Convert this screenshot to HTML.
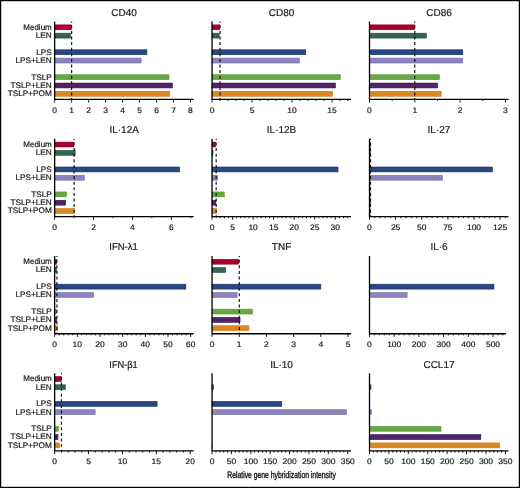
<!DOCTYPE html>
<html><head><meta charset="utf-8"><style>
html,body{margin:0;padding:0;background:#fff;}
body{width:520px;height:488px;overflow:hidden;}
svg{display:block;will-change:transform;}
rect{stroke-width:0.6;}
text{font-family:"Liberation Sans",sans-serif;fill:#1a1a1a;text-rendering:geometricPrecision;stroke:#1a1a1a;stroke-width:0.2px;}
.t{font-size:10px;text-anchor:middle;}
.n{font-size:8px;text-anchor:middle;}
.l{font-size:8.1px;text-anchor:end;}
.a{fill:none;stroke:#000;stroke-width:1.3;}
.k{fill:none;stroke:#000;stroke-width:0.9;}
.d{stroke:#000;stroke-width:1.1;stroke-dasharray:3 2.6;stroke-dashoffset:1.9;}
</style></head><body>
<svg width="520" height="488" viewBox="0 0 520 488">
<rect x="0.6" y="0.6" width="518.8" height="486.8" fill="#fff" style="stroke:#000;stroke-width:1.2px"/>
<g><text x="124.15" y="15.9" class="t" textLength="25.57" lengthAdjust="spacingAndGlyphs">CD40</text><rect x="54.65" y="24.87" width="16.68" height="4.9" fill="#a8002e" stroke="#90001c"/><rect x="54.65" y="33.18" width="16" height="4.9" fill="#326450" stroke="#24503a"/><rect x="54.65" y="49.8" width="92.24" height="4.9" fill="#284882" stroke="#122c66"/><rect x="54.65" y="58.11" width="86.47" height="4.9" fill="#8c84bc" stroke="#7a6cae"/><rect x="54.65" y="74.73" width="114.32" height="4.9" fill="#68a844" stroke="#549634"/><rect x="54.65" y="83.04" width="117.71" height="4.9" fill="#522464" stroke="#3c0c50"/><rect x="54.65" y="91.35" width="115.16" height="4.9" fill="#dc8820" stroke="#c87410"/><line x1="71.63" y1="21.6" x2="71.63" y2="99.35" class="d"/><path d="M54.65 21.6V99.35H193.65" class="a"/><path d="M54.65 99.35v3.2M71.63 99.35v3.2M88.61 99.35v3.2M105.59 99.35v3.2M122.57 99.35v3.2M139.55 99.35v3.2M156.53 99.35v3.2M173.51 99.35v3.2M190.49 99.35v3.2" class="k"/><text x="54.65" y="112.8" class="n" textLength="4.72" lengthAdjust="spacingAndGlyphs">0</text><text x="71.63" y="112.8" class="n" textLength="4.72" lengthAdjust="spacingAndGlyphs">1</text><text x="88.61" y="112.8" class="n" textLength="4.72" lengthAdjust="spacingAndGlyphs">2</text><text x="105.59" y="112.8" class="n" textLength="4.72" lengthAdjust="spacingAndGlyphs">3</text><text x="122.57" y="112.8" class="n" textLength="4.72" lengthAdjust="spacingAndGlyphs">4</text><text x="139.55" y="112.8" class="n" textLength="4.72" lengthAdjust="spacingAndGlyphs">5</text><text x="156.53" y="112.8" class="n" textLength="4.72" lengthAdjust="spacingAndGlyphs">6</text><text x="173.51" y="112.8" class="n" textLength="4.72" lengthAdjust="spacingAndGlyphs">7</text><text x="190.49" y="112.8" class="n" textLength="4.72" lengthAdjust="spacingAndGlyphs">8</text><text x="51.8" y="29.72" class="l" textLength="28.52" lengthAdjust="spacingAndGlyphs">Medium</text><text x="51.8" y="38.03" class="l" textLength="15.99" lengthAdjust="spacingAndGlyphs">LEN</text><text x="51.8" y="54.65" class="l" textLength="15.54" lengthAdjust="spacingAndGlyphs">LPS</text><text x="51.8" y="62.96" class="l" textLength="36.34" lengthAdjust="spacingAndGlyphs">LPS+LEN</text><text x="51.8" y="79.58" class="l" textLength="20.56" lengthAdjust="spacingAndGlyphs">TSLP</text><text x="51.8" y="87.89" class="l" textLength="41.36" lengthAdjust="spacingAndGlyphs">TSLP+LEN</text><text x="51.8" y="96.2" class="l" textLength="44.09" lengthAdjust="spacingAndGlyphs">TSLP+POM</text></g>
<g><text x="281.55" y="15.9" class="t" textLength="25.57" lengthAdjust="spacingAndGlyphs">CD80</text><rect x="212.05" y="24.87" width="7.7" height="4.9" fill="#a8002e" stroke="#90001c"/><rect x="212.05" y="33.18" width="7.14" height="4.9" fill="#326450" stroke="#24503a"/><rect x="212.05" y="49.8" width="93.7" height="4.9" fill="#284882" stroke="#122c66"/><rect x="212.05" y="58.11" width="87.3" height="4.9" fill="#8c84bc" stroke="#7a6cae"/><rect x="212.05" y="74.73" width="128.26" height="4.9" fill="#68a844" stroke="#549634"/><rect x="212.05" y="83.04" width="123.38" height="4.9" fill="#522464" stroke="#3c0c50"/><rect x="212.05" y="91.35" width="120.5" height="4.9" fill="#dc8820" stroke="#c87410"/><line x1="220.05" y1="21.6" x2="220.05" y2="99.35" class="d"/><path d="M212.05 21.6V99.35H351.05" class="a"/><path d="M220.05 99.35v1.6M228.05 99.35v1.6M236.05 99.35v1.6M244.05 99.35v1.6M260.05 99.35v1.6M268.05 99.35v1.6M276.05 99.35v1.6M284.05 99.35v1.6M300.05 99.35v1.6M308.05 99.35v1.6M316.05 99.35v1.6M324.05 99.35v1.6M340.05 99.35v1.6M348.05 99.35v1.6M212.05 99.35v3.2M252.05 99.35v3.2M292.05 99.35v3.2M332.05 99.35v3.2" class="k"/><text x="212.05" y="112.8" class="n" textLength="4.72" lengthAdjust="spacingAndGlyphs">0</text><text x="252.05" y="112.8" class="n" textLength="4.72" lengthAdjust="spacingAndGlyphs">5</text><text x="292.05" y="112.8" class="n" textLength="9.43" lengthAdjust="spacingAndGlyphs">10</text><text x="332.05" y="112.8" class="n" textLength="9.43" lengthAdjust="spacingAndGlyphs">15</text></g>
<g><text x="439" y="15.9" class="t" textLength="25.57" lengthAdjust="spacingAndGlyphs">CD86</text><rect x="369.5" y="24.87" width="45" height="4.9" fill="#a8002e" stroke="#90001c"/><rect x="369.5" y="33.18" width="56.87" height="4.9" fill="#326450" stroke="#24503a"/><rect x="369.5" y="49.8" width="93.29" height="4.9" fill="#284882" stroke="#122c66"/><rect x="369.5" y="58.11" width="93.29" height="4.9" fill="#8c84bc" stroke="#7a6cae"/><rect x="369.5" y="74.73" width="69.92" height="4.9" fill="#68a844" stroke="#549634"/><rect x="369.5" y="83.04" width="68.1" height="4.9" fill="#522464" stroke="#3c0c50"/><rect x="369.5" y="91.35" width="71.68" height="4.9" fill="#dc8820" stroke="#c87410"/><line x1="414.8" y1="21.6" x2="414.8" y2="99.35" class="d"/><path d="M369.5 21.6V99.35H508.5" class="a"/><path d="M392.15 99.35v1.6M437.45 99.35v1.6M482.75 99.35v1.6M369.5 99.35v3.2M414.8 99.35v3.2M460.1 99.35v3.2M505.4 99.35v3.2" class="k"/><text x="369.5" y="112.8" class="n" textLength="4.72" lengthAdjust="spacingAndGlyphs">0</text><text x="414.8" y="112.8" class="n" textLength="4.72" lengthAdjust="spacingAndGlyphs">1</text><text x="460.1" y="112.8" class="n" textLength="4.72" lengthAdjust="spacingAndGlyphs">2</text><text x="505.4" y="112.8" class="n" textLength="4.72" lengthAdjust="spacingAndGlyphs">3</text></g>
<g><text x="124.15" y="133.1" class="t" textLength="29.46" lengthAdjust="spacingAndGlyphs">IL·12A</text><rect x="54.65" y="142.07" width="19.15" height="4.9" fill="#a8002e" stroke="#90001c"/><rect x="54.65" y="150.38" width="20.51" height="4.9" fill="#326450" stroke="#24503a"/><rect x="54.65" y="167" width="124.96" height="4.9" fill="#284882" stroke="#122c66"/><rect x="54.65" y="175.31" width="29.65" height="4.9" fill="#8c84bc" stroke="#7a6cae"/><rect x="54.65" y="191.93" width="11.76" height="4.9" fill="#68a844" stroke="#549634"/><rect x="54.65" y="200.24" width="10.98" height="4.9" fill="#522464" stroke="#3c0c50"/><rect x="54.65" y="208.55" width="19.54" height="4.9" fill="#dc8820" stroke="#c87410"/><line x1="74.1" y1="138.8" x2="74.1" y2="216.55" class="d"/><path d="M54.65 138.8V216.55H193.65" class="a"/><path d="M74.1 216.55v1.6M113 216.55v1.6M151.9 216.55v1.6M190.8 216.55v1.6M54.65 216.55v3.2M93.55 216.55v3.2M132.45 216.55v3.2M171.35 216.55v3.2" class="k"/><text x="54.65" y="230" class="n" textLength="4.72" lengthAdjust="spacingAndGlyphs">0</text><text x="93.55" y="230" class="n" textLength="4.72" lengthAdjust="spacingAndGlyphs">2</text><text x="132.45" y="230" class="n" textLength="4.72" lengthAdjust="spacingAndGlyphs">4</text><text x="171.35" y="230" class="n" textLength="4.72" lengthAdjust="spacingAndGlyphs">6</text><text x="51.8" y="146.92" class="l" textLength="28.52" lengthAdjust="spacingAndGlyphs">Medium</text><text x="51.8" y="155.23" class="l" textLength="15.99" lengthAdjust="spacingAndGlyphs">LEN</text><text x="51.8" y="171.85" class="l" textLength="15.54" lengthAdjust="spacingAndGlyphs">LPS</text><text x="51.8" y="180.16" class="l" textLength="36.34" lengthAdjust="spacingAndGlyphs">LPS+LEN</text><text x="51.8" y="196.78" class="l" textLength="20.56" lengthAdjust="spacingAndGlyphs">TSLP</text><text x="51.8" y="205.09" class="l" textLength="41.36" lengthAdjust="spacingAndGlyphs">TSLP+LEN</text><text x="51.8" y="213.4" class="l" textLength="44.09" lengthAdjust="spacingAndGlyphs">TSLP+POM</text></g>
<g><text x="281.55" y="133.1" class="t" textLength="29.46" lengthAdjust="spacingAndGlyphs">IL·12B</text><rect x="212.05" y="142.07" width="3.6" height="4.9" fill="#a8002e" stroke="#90001c"/><rect x="212.05" y="150.38" width="0.93" height="4.9" fill="#326450" stroke="#24503a"/><rect x="212.05" y="167" width="125.99" height="4.9" fill="#284882" stroke="#122c66"/><rect x="212.05" y="175.31" width="5.45" height="4.9" fill="#8c84bc" stroke="#7a6cae"/><rect x="212.05" y="191.93" width="12.23" height="4.9" fill="#68a844" stroke="#549634"/><rect x="212.05" y="200.24" width="3.81" height="4.9" fill="#522464" stroke="#3c0c50"/><rect x="212.05" y="208.55" width="4.22" height="4.9" fill="#dc8820" stroke="#c87410"/><line x1="216.16" y1="138.8" x2="216.16" y2="216.55" class="d"/><path d="M212.05 138.8V216.55H351.05" class="a"/><path d="M216.16 216.55v1.6M220.26 216.55v1.6M224.37 216.55v1.6M228.48 216.55v1.6M236.69 216.55v1.6M240.8 216.55v1.6M244.91 216.55v1.6M249.01 216.55v1.6M257.23 216.55v1.6M261.33 216.55v1.6M265.44 216.55v1.6M269.55 216.55v1.6M277.76 216.55v1.6M281.87 216.55v1.6M285.98 216.55v1.6M290.08 216.55v1.6M298.3 216.55v1.6M302.4 216.55v1.6M306.51 216.55v1.6M310.62 216.55v1.6M318.83 216.55v1.6M322.94 216.55v1.6M327.05 216.55v1.6M331.15 216.55v1.6M339.37 216.55v1.6M343.47 216.55v1.6M347.58 216.55v1.6M212.05 216.55v3.2M232.59 216.55v3.2M253.12 216.55v3.2M273.66 216.55v3.2M294.19 216.55v3.2M314.73 216.55v3.2M335.26 216.55v3.2" class="k"/><text x="212.05" y="230" class="n" textLength="4.72" lengthAdjust="spacingAndGlyphs">0</text><text x="232.59" y="230" class="n" textLength="4.72" lengthAdjust="spacingAndGlyphs">5</text><text x="253.12" y="230" class="n" textLength="9.43" lengthAdjust="spacingAndGlyphs">10</text><text x="273.66" y="230" class="n" textLength="9.43" lengthAdjust="spacingAndGlyphs">15</text><text x="294.19" y="230" class="n" textLength="9.43" lengthAdjust="spacingAndGlyphs">20</text><text x="314.73" y="230" class="n" textLength="9.43" lengthAdjust="spacingAndGlyphs">25</text><text x="335.26" y="230" class="n" textLength="9.43" lengthAdjust="spacingAndGlyphs">30</text></g>
<g><text x="439" y="133.1" class="t" textLength="22.79" lengthAdjust="spacingAndGlyphs">IL·27</text><rect x="369.5" y="142.07" width="0.74" height="4.9" fill="#a8002e" stroke="#90001c"/><rect x="369.5" y="150.38" width="0.74" height="4.9" fill="#326450" stroke="#24503a"/><rect x="369.5" y="167" width="122.91" height="4.9" fill="#284882" stroke="#122c66"/><rect x="369.5" y="175.31" width="72.95" height="4.9" fill="#8c84bc" stroke="#7a6cae"/><rect x="369.5" y="191.93" width="0.74" height="4.9" fill="#68a844" stroke="#549634"/><rect x="369.5" y="200.24" width="0.74" height="4.9" fill="#522464" stroke="#3c0c50"/><rect x="369.5" y="208.55" width="0.74" height="4.9" fill="#dc8820" stroke="#c87410"/><line x1="370.55" y1="138.8" x2="370.55" y2="216.55" class="d"/><path d="M369.5 138.8V216.55H508.5" class="a"/><path d="M374.73 216.55v1.6M379.95 216.55v1.6M385.18 216.55v1.6M390.4 216.55v1.6M400.85 216.55v1.6M406.07 216.55v1.6M411.3 216.55v1.6M416.52 216.55v1.6M426.98 216.55v1.6M432.2 216.55v1.6M437.43 216.55v1.6M442.65 216.55v1.6M453.1 216.55v1.6M458.32 216.55v1.6M463.55 216.55v1.6M468.77 216.55v1.6M479.23 216.55v1.6M484.45 216.55v1.6M489.68 216.55v1.6M494.9 216.55v1.6M505.35 216.55v1.6M369.5 216.55v3.2M395.62 216.55v3.2M421.75 216.55v3.2M447.88 216.55v3.2M474 216.55v3.2M500.12 216.55v3.2" class="k"/><text x="369.5" y="230" class="n" textLength="4.72" lengthAdjust="spacingAndGlyphs">0</text><text x="395.62" y="230" class="n" textLength="9.43" lengthAdjust="spacingAndGlyphs">25</text><text x="421.75" y="230" class="n" textLength="9.43" lengthAdjust="spacingAndGlyphs">50</text><text x="447.88" y="230" class="n" textLength="9.43" lengthAdjust="spacingAndGlyphs">75</text><text x="474" y="230" class="n" textLength="14.15" lengthAdjust="spacingAndGlyphs">100</text><text x="500.12" y="230" class="n" textLength="14.15" lengthAdjust="spacingAndGlyphs">125</text></g>
<g><text x="123.55" y="250.3" class="t" textLength="28.4" lengthAdjust="spacingAndGlyphs">IFN-λ1</text><rect x="54.65" y="259.27" width="1.97" height="4.9" fill="#a8002e" stroke="#90001c"/><rect x="54.65" y="267.58" width="1.74" height="4.9" fill="#326450" stroke="#24503a"/><rect x="54.65" y="284.2" width="131.19" height="4.9" fill="#284882" stroke="#122c66"/><rect x="54.65" y="292.51" width="38.92" height="4.9" fill="#8c84bc" stroke="#7a6cae"/><rect x="54.65" y="309.13" width="1.51" height="4.9" fill="#68a844" stroke="#549634"/><rect x="54.65" y="317.44" width="1.97" height="4.9" fill="#522464" stroke="#3c0c50"/><rect x="54.65" y="325.75" width="2.65" height="4.9" fill="#dc8820" stroke="#c87410"/><line x1="56.92" y1="256" x2="56.92" y2="333.75" class="d"/><path d="M54.65 256V333.75H193.65" class="a"/><path d="M59.18 333.75v1.6M63.72 333.75v1.6M68.25 333.75v1.6M72.79 333.75v1.6M81.85 333.75v1.6M86.39 333.75v1.6M90.92 333.75v1.6M95.46 333.75v1.6M104.52 333.75v1.6M109.06 333.75v1.6M113.59 333.75v1.6M118.13 333.75v1.6M127.19 333.75v1.6M131.73 333.75v1.6M136.26 333.75v1.6M140.8 333.75v1.6M149.86 333.75v1.6M154.4 333.75v1.6M158.93 333.75v1.6M163.47 333.75v1.6M172.53 333.75v1.6M177.07 333.75v1.6M181.6 333.75v1.6M186.14 333.75v1.6M54.65 333.75v3.2M77.32 333.75v3.2M99.99 333.75v3.2M122.66 333.75v3.2M145.33 333.75v3.2M168 333.75v3.2M190.67 333.75v3.2" class="k"/><text x="54.65" y="347.2" class="n" textLength="4.72" lengthAdjust="spacingAndGlyphs">0</text><text x="77.32" y="347.2" class="n" textLength="9.43" lengthAdjust="spacingAndGlyphs">10</text><text x="99.99" y="347.2" class="n" textLength="9.43" lengthAdjust="spacingAndGlyphs">20</text><text x="122.66" y="347.2" class="n" textLength="9.43" lengthAdjust="spacingAndGlyphs">30</text><text x="145.33" y="347.2" class="n" textLength="9.43" lengthAdjust="spacingAndGlyphs">40</text><text x="168" y="347.2" class="n" textLength="9.43" lengthAdjust="spacingAndGlyphs">50</text><text x="190.67" y="347.2" class="n" textLength="9.43" lengthAdjust="spacingAndGlyphs">60</text><text x="51.8" y="264.12" class="l" textLength="28.52" lengthAdjust="spacingAndGlyphs">Medium</text><text x="51.8" y="272.43" class="l" textLength="15.99" lengthAdjust="spacingAndGlyphs">LEN</text><text x="51.8" y="289.05" class="l" textLength="15.54" lengthAdjust="spacingAndGlyphs">LPS</text><text x="51.8" y="297.36" class="l" textLength="36.34" lengthAdjust="spacingAndGlyphs">LPS+LEN</text><text x="51.8" y="313.98" class="l" textLength="20.56" lengthAdjust="spacingAndGlyphs">TSLP</text><text x="51.8" y="322.29" class="l" textLength="41.36" lengthAdjust="spacingAndGlyphs">TSLP+LEN</text><text x="51.8" y="330.6" class="l" textLength="44.09" lengthAdjust="spacingAndGlyphs">TSLP+POM</text></g>
<g><text x="281.55" y="250.3" class="t" textLength="19.44" lengthAdjust="spacingAndGlyphs">TNF</text><rect x="212.05" y="259.27" width="26.63" height="4.9" fill="#a8002e" stroke="#90001c"/><rect x="212.05" y="267.58" width="13.68" height="4.9" fill="#326450" stroke="#24503a"/><rect x="212.05" y="284.2" width="108.77" height="4.9" fill="#284882" stroke="#122c66"/><rect x="212.05" y="292.51" width="25" height="4.9" fill="#8c84bc" stroke="#7a6cae"/><rect x="212.05" y="309.13" width="40.5" height="4.9" fill="#68a844" stroke="#549634"/><rect x="212.05" y="317.44" width="27.99" height="4.9" fill="#522464" stroke="#3c0c50"/><rect x="212.05" y="325.75" width="36.83" height="4.9" fill="#dc8820" stroke="#c87410"/><line x1="239.25" y1="256" x2="239.25" y2="333.75" class="d"/><path d="M212.05 256V333.75H351.05" class="a"/><path d="M212.05 333.75v3.2M239.25 333.75v3.2M266.45 333.75v3.2M293.65 333.75v3.2M320.85 333.75v3.2M348.05 333.75v3.2" class="k"/><text x="212.05" y="347.2" class="n" textLength="4.72" lengthAdjust="spacingAndGlyphs">0</text><text x="239.25" y="347.2" class="n" textLength="4.72" lengthAdjust="spacingAndGlyphs">1</text><text x="266.45" y="347.2" class="n" textLength="4.72" lengthAdjust="spacingAndGlyphs">2</text><text x="293.65" y="347.2" class="n" textLength="4.72" lengthAdjust="spacingAndGlyphs">3</text><text x="320.85" y="347.2" class="n" textLength="4.72" lengthAdjust="spacingAndGlyphs">4</text><text x="348.05" y="347.2" class="n" textLength="4.72" lengthAdjust="spacingAndGlyphs">5</text></g>
<g><text x="439" y="250.3" class="t" textLength="17.23" lengthAdjust="spacingAndGlyphs">IL·6</text><rect x="369.5" y="284.2" width="124.44" height="4.9" fill="#284882" stroke="#122c66"/><rect x="369.5" y="292.51" width="37.64" height="4.9" fill="#8c84bc" stroke="#7a6cae"/><path d="M369.5 256V333.75H505.9" class="a"/><path d="M374.44 333.75v1.6M379.38 333.75v1.6M384.32 333.75v1.6M389.26 333.75v1.6M399.14 333.75v1.6M404.08 333.75v1.6M409.02 333.75v1.6M413.96 333.75v1.6M423.84 333.75v1.6M428.78 333.75v1.6M433.72 333.75v1.6M438.66 333.75v1.6M448.54 333.75v1.6M453.48 333.75v1.6M458.42 333.75v1.6M463.36 333.75v1.6M473.24 333.75v1.6M478.18 333.75v1.6M483.12 333.75v1.6M488.06 333.75v1.6M497.94 333.75v1.6M502.88 333.75v1.6M369.5 333.75v3.2M394.2 333.75v3.2M418.9 333.75v3.2M443.6 333.75v3.2M468.3 333.75v3.2M493 333.75v3.2" class="k"/><text x="369.5" y="347.2" class="n" textLength="4.72" lengthAdjust="spacingAndGlyphs">0</text><text x="394.2" y="347.2" class="n" textLength="14.15" lengthAdjust="spacingAndGlyphs">100</text><text x="418.9" y="347.2" class="n" textLength="14.15" lengthAdjust="spacingAndGlyphs">200</text><text x="443.6" y="347.2" class="n" textLength="14.15" lengthAdjust="spacingAndGlyphs">300</text><text x="468.3" y="347.2" class="n" textLength="14.15" lengthAdjust="spacingAndGlyphs">400</text><text x="493" y="347.2" class="n" textLength="14.15" lengthAdjust="spacingAndGlyphs">500</text></g>
<g><text x="123.55" y="367.5" class="t" textLength="28.4" lengthAdjust="spacingAndGlyphs">IFN-β1</text><rect x="54.65" y="376.47" width="6.55" height="4.9" fill="#a8002e" stroke="#90001c"/><rect x="54.65" y="384.78" width="10.75" height="4.9" fill="#326450" stroke="#24503a"/><rect x="54.65" y="401.4" width="102.42" height="4.9" fill="#284882" stroke="#122c66"/><rect x="54.65" y="409.71" width="40.52" height="4.9" fill="#8c84bc" stroke="#7a6cae"/><rect x="54.65" y="426.33" width="3.84" height="4.9" fill="#68a844" stroke="#549634"/><rect x="54.65" y="434.64" width="3.36" height="4.9" fill="#522464" stroke="#3c0c50"/><rect x="54.65" y="442.95" width="4.79" height="4.9" fill="#dc8820" stroke="#c87410"/><line x1="61.43" y1="373.2" x2="61.43" y2="450.95" class="d"/><path d="M54.65 373.2V450.95H193.65" class="a"/><path d="M61.43 450.95v1.6M68.21 450.95v1.6M74.99 450.95v1.6M81.77 450.95v1.6M95.33 450.95v1.6M102.11 450.95v1.6M108.89 450.95v1.6M115.67 450.95v1.6M129.23 450.95v1.6M136.01 450.95v1.6M142.79 450.95v1.6M149.57 450.95v1.6M163.13 450.95v1.6M169.91 450.95v1.6M176.69 450.95v1.6M183.47 450.95v1.6M54.65 450.95v3.2M88.55 450.95v3.2M122.45 450.95v3.2M156.35 450.95v3.2M190.25 450.95v3.2" class="k"/><text x="54.65" y="464.4" class="n" textLength="4.72" lengthAdjust="spacingAndGlyphs">0</text><text x="88.55" y="464.4" class="n" textLength="4.72" lengthAdjust="spacingAndGlyphs">5</text><text x="122.45" y="464.4" class="n" textLength="9.43" lengthAdjust="spacingAndGlyphs">10</text><text x="156.35" y="464.4" class="n" textLength="9.43" lengthAdjust="spacingAndGlyphs">15</text><text x="190.25" y="464.4" class="n" textLength="9.43" lengthAdjust="spacingAndGlyphs">20</text><text x="51.8" y="381.32" class="l" textLength="28.52" lengthAdjust="spacingAndGlyphs">Medium</text><text x="51.8" y="389.63" class="l" textLength="15.99" lengthAdjust="spacingAndGlyphs">LEN</text><text x="51.8" y="406.25" class="l" textLength="15.54" lengthAdjust="spacingAndGlyphs">LPS</text><text x="51.8" y="414.56" class="l" textLength="36.34" lengthAdjust="spacingAndGlyphs">LPS+LEN</text><text x="51.8" y="431.18" class="l" textLength="20.56" lengthAdjust="spacingAndGlyphs">TSLP</text><text x="51.8" y="439.49" class="l" textLength="41.36" lengthAdjust="spacingAndGlyphs">TSLP+LEN</text><text x="51.8" y="447.8" class="l" textLength="44.09" lengthAdjust="spacingAndGlyphs">TSLP+POM</text></g>
<g><text x="281.55" y="367.5" class="t" textLength="22.79" lengthAdjust="spacingAndGlyphs">IL·10</text><rect x="212.05" y="384.78" width="1.64" height="4.9" fill="#326450" stroke="#24503a"/><rect x="212.05" y="401.4" width="69.68" height="4.9" fill="#284882" stroke="#122c66"/><rect x="212.05" y="409.71" width="134.54" height="4.9" fill="#8c84bc" stroke="#7a6cae"/><rect x="212.05" y="442.95" width="0.1" height="4.9" fill="#dc8820" stroke="#c87410"/><path d="M212.05 373.2V450.95H351.05" class="a"/><path d="M215.93 450.95v1.6M219.8 450.95v1.6M223.68 450.95v1.6M227.56 450.95v1.6M235.31 450.95v1.6M239.19 450.95v1.6M243.07 450.95v1.6M246.94 450.95v1.6M254.7 450.95v1.6M258.57 450.95v1.6M262.45 450.95v1.6M266.33 450.95v1.6M274.08 450.95v1.6M277.96 450.95v1.6M281.84 450.95v1.6M285.71 450.95v1.6M293.47 450.95v1.6M297.34 450.95v1.6M301.22 450.95v1.6M305.1 450.95v1.6M312.85 450.95v1.6M316.73 450.95v1.6M320.61 450.95v1.6M324.48 450.95v1.6M332.24 450.95v1.6M336.11 450.95v1.6M339.99 450.95v1.6M343.87 450.95v1.6M212.05 450.95v3.2M231.44 450.95v3.2M250.82 450.95v3.2M270.21 450.95v3.2M289.59 450.95v3.2M308.98 450.95v3.2M328.36 450.95v3.2M347.75 450.95v3.2" class="k"/><text x="212.05" y="464.4" class="n" textLength="4.72" lengthAdjust="spacingAndGlyphs">0</text><text x="231.44" y="464.4" class="n" textLength="9.43" lengthAdjust="spacingAndGlyphs">50</text><text x="250.82" y="464.4" class="n" textLength="14.15" lengthAdjust="spacingAndGlyphs">100</text><text x="270.21" y="464.4" class="n" textLength="14.15" lengthAdjust="spacingAndGlyphs">150</text><text x="289.59" y="464.4" class="n" textLength="14.15" lengthAdjust="spacingAndGlyphs">200</text><text x="308.98" y="464.4" class="n" textLength="14.15" lengthAdjust="spacingAndGlyphs">250</text><text x="328.36" y="464.4" class="n" textLength="14.15" lengthAdjust="spacingAndGlyphs">300</text><text x="347.75" y="464.4" class="n" textLength="14.15" lengthAdjust="spacingAndGlyphs">350</text></g>
<g><text x="439" y="367.5" class="t" textLength="31.13" lengthAdjust="spacingAndGlyphs">CCL17</text><rect x="369.5" y="384.78" width="1.54" height="4.9" fill="#326450" stroke="#24503a"/><rect x="369.5" y="401.4" width="0.16" height="4.9" fill="#284882" stroke="#122c66"/><rect x="369.5" y="409.71" width="2" height="4.9" fill="#8c84bc" stroke="#7a6cae"/><rect x="369.5" y="426.33" width="71.51" height="4.9" fill="#68a844" stroke="#549634"/><rect x="369.5" y="434.64" width="111.34" height="4.9" fill="#522464" stroke="#3c0c50"/><rect x="369.5" y="442.95" width="129.92" height="4.9" fill="#dc8820" stroke="#c87410"/><path d="M369.5 373.2V450.95H508.5" class="a"/><path d="M373.38 450.95v1.6M377.27 450.95v1.6M381.15 450.95v1.6M385.03 450.95v1.6M392.8 450.95v1.6M396.68 450.95v1.6M400.56 450.95v1.6M404.45 450.95v1.6M412.21 450.95v1.6M416.1 450.95v1.6M419.98 450.95v1.6M423.86 450.95v1.6M431.63 450.95v1.6M435.51 450.95v1.6M439.39 450.95v1.6M443.28 450.95v1.6M451.04 450.95v1.6M454.93 450.95v1.6M458.81 450.95v1.6M462.69 450.95v1.6M470.46 450.95v1.6M474.34 450.95v1.6M478.22 450.95v1.6M482.11 450.95v1.6M489.87 450.95v1.6M493.76 450.95v1.6M497.64 450.95v1.6M501.52 450.95v1.6M369.5 450.95v3.2M388.92 450.95v3.2M408.33 450.95v3.2M427.75 450.95v3.2M447.16 450.95v3.2M466.57 450.95v3.2M485.99 450.95v3.2M505.4 450.95v3.2" class="k"/><text x="369.5" y="464.4" class="n" textLength="4.72" lengthAdjust="spacingAndGlyphs">0</text><text x="388.92" y="464.4" class="n" textLength="9.43" lengthAdjust="spacingAndGlyphs">50</text><text x="408.33" y="464.4" class="n" textLength="14.15" lengthAdjust="spacingAndGlyphs">100</text><text x="427.75" y="464.4" class="n" textLength="14.15" lengthAdjust="spacingAndGlyphs">150</text><text x="447.16" y="464.4" class="n" textLength="14.15" lengthAdjust="spacingAndGlyphs">200</text><text x="466.57" y="464.4" class="n" textLength="14.15" lengthAdjust="spacingAndGlyphs">250</text><text x="485.99" y="464.4" class="n" textLength="14.15" lengthAdjust="spacingAndGlyphs">300</text><text x="505.4" y="464.4" class="n" textLength="14.15" lengthAdjust="spacingAndGlyphs">350</text></g>
<text x="227.3" y="477.9" textLength="108.5" lengthAdjust="spacingAndGlyphs" style="font-size:9.5px;stroke-width:0.4px">Relative gene hybridization intensity</text>
</svg>
</body></html>
